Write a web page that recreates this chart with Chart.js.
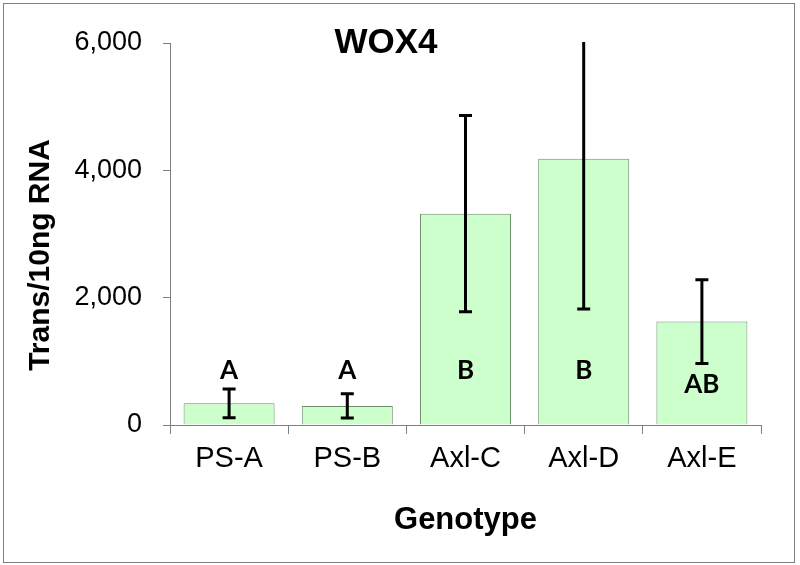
<!DOCTYPE html>
<html>
<head>
<meta charset="utf-8">
<script src="https://cdn.jsdelivr.net/npm/chart.js@4.4.1/dist/chart.umd.min.js"></script>
<style>
  html, body { margin: 0; padding: 0; background: #fff; }
  #wrap { width: 800px; height: 565px; position: relative; }
</style>
</head>
<body>
<div id="wrap"><canvas id="barChart" width="800" height="565"></canvas></div>
<script>
const genotypes = ['PS-A', 'PS-B', 'Axl-C', 'Axl-D', 'Axl-E'];
const means = [340, 300, 3320, 4180, 1625];
const errors = [227, 190, 1540, 2357, 658];
const letters = ['A', 'A', 'B', 'B', 'AB'];
const letterValues = [860, 860, 860, 860, 627];
const yTicks = [0, 2000, 4000, 6000];

// khung ngoài + tiêu đề WOX4 + tiêu đề trục y
const framePlugin = {
    id: 'frame',
    beforeDraw(chart) {
        const ctx = chart.ctx;
        ctx.save();
        ctx.fillStyle = '#fff';
        ctx.fillRect(0, 0, chart.width, chart.height);
        ctx.strokeStyle = '#808080';
        ctx.lineWidth = 1;
        ctx.strokeRect(3.5, 3.5, 791, 559);
        ctx.restore();
    },
    afterDraw(chart) {
        const ctx = chart.ctx;
        ctx.save();
        ctx.font = 'bold 35px "Liberation Sans", Arial, sans-serif';
        ctx.fillStyle = '#000';
        ctx.textAlign = 'center';
        ctx.textBaseline = 'middle';
        ctx.fillText('WOX4', 386, 43);
        ctx.translate(41, 255);
        ctx.rotate(-Math.PI / 2);
        ctx.font = 'bold 30px "Liberation Sans", Arial, sans-serif';
        ctx.fillText('Trans/10ng RNA', 0, 0);
        ctx.restore();
    }
};

// thanh sai số + chữ cái
const errorBarPlugin = {
    id: 'errorBars',
    afterDatasetsDraw(chart) {
        const ctx = chart.ctx;
        const x = chart.scales.x;
        const y = chart.scales.y;
        const area = chart.chartArea;
        ctx.save();
        ctx.beginPath();
        ctx.rect(area.left, area.top - 1, area.right - area.left, area.bottom - area.top + 2);
        ctx.clip();
        ctx.strokeStyle = '#000';
        ctx.lineWidth = 3;
        means.forEach((m, i) => {
            const px = x.getPixelForValue(i);
            const top = y.getPixelForValue(m + errors[i]);
            const bot = y.getPixelForValue(m - errors[i]);
            ctx.beginPath();
            ctx.moveTo(px, top);
            ctx.lineTo(px, bot);
            ctx.moveTo(px - 6.5, top);
            ctx.lineTo(px + 6.5, top);
            ctx.moveTo(px - 6.5, bot);
            ctx.lineTo(px + 6.5, bot);
            ctx.stroke();
        });
        ctx.restore();

        ctx.save();
        ctx.font = 'bold 26px Lato, "Open Sans", sans-serif';
        ctx.fillStyle = '#000';
        ctx.textAlign = 'center';
        ctx.textBaseline = 'middle';
        letters.forEach((t, i) => {
            ctx.fillText(t, x.getPixelForValue(i), y.getPixelForValue(letterValues[i]));
        });
        ctx.restore();
    }
};

const ctxBar = document.getElementById('barChart');
new Chart(ctxBar, {
    type: 'bar',
    data: {
        labels: genotypes,
        datasets: [{
            data: means,
            backgroundColor: '#ccffcc',
            borderColor: '#6f8f6f',
            borderWidth: 1,
            barPercentage: 0.77,
            categoryPercentage: 1
        }]
    },
    options: {
        responsive: false,
        animation: false,
        layout: { padding: { left: 0, top: 43, right: 39, bottom: 0 } },
        plugins: { legend: { display: false }, tooltip: { enabled: false } },
        scales: {
            x: {
                afterFit: (s) => { s.height = 140; },
                grid: { display: true, drawOnChartArea: false, offset: true, tickLength: 9, color: '#808080' },
                border: { color: '#808080', width: 1 },
                ticks: { color: '#000', padding: 8, font: { family: '"Liberation Sans", Arial, sans-serif', size: 29 } },
                title: {
                    display: true, text: 'Genotype', color: '#000',
                    padding: { top: 0, bottom: 26 },
                    font: { family: '"Liberation Sans", Arial, sans-serif', size: 31, weight: 'bold' }
                }
            },
            y: {
                min: 0, max: 6000,
                afterFit: (s) => { s.width = 170; },
                afterBuildTicks: (s) => { s.ticks = yTicks.map(v => ({ value: v })); },
                grid: { display: true, drawOnChartArea: false, tickLength: 7, color: '#808080' },
                border: { color: '#808080', width: 1 },
                ticks: {
                    color: '#000', padding: 21,
                    font: { family: '"Liberation Sans", Arial, sans-serif', size: 27 },
                    callback: (v) => Number(v).toLocaleString('en-US')
                }
            }
        }
    },
    plugins: [framePlugin, errorBarPlugin]
});
</script>
</body>
</html>
